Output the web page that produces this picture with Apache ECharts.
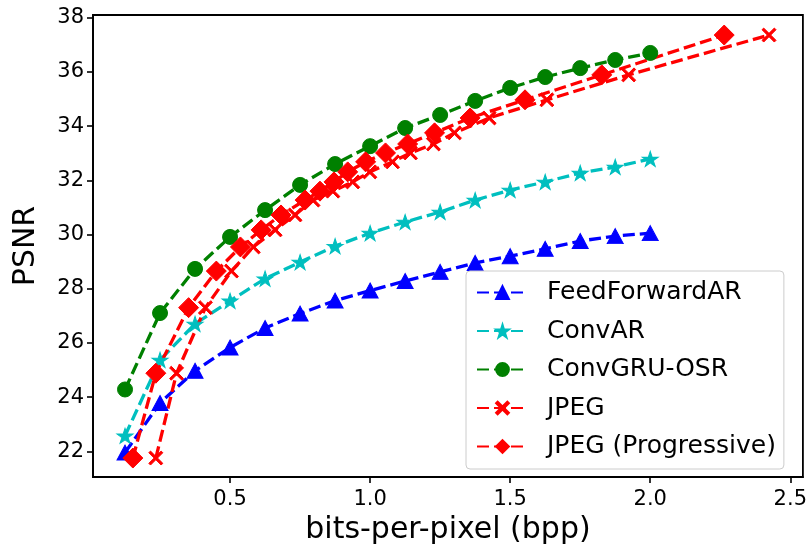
<!DOCTYPE html>
<html>
<head>
<meta charset="utf-8">
<script src="https://cdn.jsdelivr.net/npm/echarts@6/dist/echarts.min.js"></script>
<style>
  html, body { margin: 0; padding: 0; background: #ffffff; }
  #chart { width: 810px; height: 552px; }
</style>
</head>
<body>
<div id="chart"></div>
<script>
// Rate points (bpp) shared by the learned codecs
const modelBpp = [0.125, 0.25, 0.375, 0.5, 0.625, 0.75, 0.875, 1.0,
                  1.125, 1.25, 1.375, 1.5, 1.625, 1.75, 1.875, 2.0];

// PSNR (dB) of each learned codec at those rates
const feedForwardAR = [21.95, 23.78, 24.97, 25.83, 26.55, 27.08, 27.56, 27.93,
                       28.28, 28.62, 28.95, 29.20, 29.47, 29.76, 29.94, 30.05];
const convAR = [22.57, 25.37, 26.70, 27.55, 28.37, 28.98, 29.57, 30.05,
                30.46, 30.83, 31.27, 31.64, 31.94, 32.27, 32.49, 32.79];
const convGRUOSR = [24.28, 27.10, 28.73, 29.91, 30.90, 31.83, 32.60, 33.26,
                    33.93, 34.41, 34.93, 35.41, 35.81, 36.14, 36.44, 36.70];

// JPEG quality sweep: PSNR per quality setting (same for baseline and progressive)
const jpegPsnr = [21.75, 24.88, 27.30, 28.65, 29.54, 30.17, 30.72, 31.27, 31.60, 31.94,
                  32.31, 32.68, 33.01, 33.34, 33.75, 34.30, 34.97, 35.89, 37.36];
const jpegBpp = [0.235, 0.309, 0.412, 0.505, 0.583, 0.661, 0.732, 0.796, 0.867, 0.938,
                 0.999, 1.080, 1.144, 1.226, 1.301, 1.425, 1.631, 1.923, 2.424];
const jpegProgressiveBpp = [0.153, 0.235, 0.352, 0.451, 0.537, 0.611, 0.682, 0.768, 0.821, 0.871,
                            0.920, 0.984, 1.055, 1.134, 1.230, 1.357, 1.553, 1.827, 2.264];

// Tick labels
const xTicks = [0.5, 1.0, 1.5, 2.0, 2.5];
const yTicks = [22, 24, 26, 28, 30, 32, 34, 36, 38];

const FONT = 'DejaVu Sans';
const starPath = 'path://M50,0 L61.23,34.55 L97.55,34.55 L68.16,55.9 L79.39,90.45 L50,69.1 L20.61,90.45 L31.84,55.9 L2.45,34.55 L38.77,34.55 Z';
const crossPath = 'path://M0,12 L12,0 L50,38 L88,0 L100,12 L62,50 L100,88 L88,100 L50,62 L12,100 L0,88 L38,50 Z';

function pairs(xs, ys) {
  return xs.map((x, i) => [x, ys[i]]);
}

function lineSeries(name, xs, ys, color, symbol, size) {
  return {
    name: name,
    type: 'line',
    data: pairs(xs, ys),
    symbol: symbol,
    symbolSize: size,
    showAllSymbol: true,
    animation: false,
    lineStyle: { color: color, width: 3.3, type: [12, 5] },
    itemStyle: { color: color, borderColor: color, borderWidth: 1 },
    emphasis: { disabled: true }
  };
}

const chart = echarts.init(document.getElementById('chart'), null, { renderer: 'canvas' });

chart.setOption({
  backgroundColor: '#ffffff',
  animation: false,
  grid: {
    left: 93, top: 15, right: 4, bottom: 75,
    show: true, borderColor: '#000000', borderWidth: 1.8, backgroundColor: 'transparent'
  },
  xAxis: {
    type: 'value',
    min: 0.0107, max: 2.545,
    name: 'bits-per-pixel (bpp)',
    nameLocation: 'middle',
    nameGap: 34,
    nameTextStyle: { fontFamily: FONT, fontSize: 30, color: '#000' },
    axisLine: { show: true, lineStyle: { color: '#000', width: 1.8 } },
    axisTick: { show: true, length: 6, lineStyle: { color: '#000', width: 1.6 }, customValues: xTicks },
    axisLabel: {
      customValues: xTicks, margin: 12,
      fontFamily: FONT, fontSize: 21, color: '#000',
      formatter: v => v.toFixed(1)
    },
    splitLine: { show: false }
  },
  yAxis: {
    type: 'value',
    min: 21.05, max: 38.1,
    name: 'PSNR',
    nameLocation: 'middle',
    nameGap: 52,
    nameRotate: 90,
    nameTextStyle: { fontFamily: FONT, fontSize: 30, color: '#000' },
    axisLine: { show: true, lineStyle: { color: '#000', width: 1.8 } },
    axisTick: { show: true, length: 6, lineStyle: { color: '#000', width: 1.6 }, customValues: yTicks },
    axisLabel: {
      customValues: yTicks, margin: 9,
      fontFamily: FONT, fontSize: 21, color: '#000',
      formatter: v => String(v)
    },
    splitLine: { show: false }
  },
  legend: {
    orient: 'vertical',
    left: 466, top: 271,
    padding: [9, 8, 10, 10],
    itemWidth: 51, itemHeight: 16, itemGap: 13.5,
    backgroundColor: 'rgba(255,255,255,0.8)',
    borderColor: '#cccccc', borderWidth: 1, borderRadius: 4,
    textStyle: { fontFamily: FONT, fontSize: 25, color: '#000', lineHeight: 25, padding: [0, 0, 0, 14] },
    data: ['FeedForwardAR', 'ConvAR', 'ConvGRU-OSR', 'JPEG', 'JPEG (Progressive)']
  },
  series: [
    lineSeries('FeedForwardAR', modelBpp, feedForwardAR, '#0000ff', 'triangle', [16, 15]),
    lineSeries('ConvAR', modelBpp, convAR, '#00bfbf', starPath, [16, 15]),
    lineSeries('ConvGRU-OSR', modelBpp, convGRUOSR, '#008000', 'circle', 15),
    lineSeries('JPEG', jpegBpp, jpegPsnr, '#ff0000', crossPath, 14),
    lineSeries('JPEG (Progressive)', jpegProgressiveBpp, jpegPsnr, '#ff0000', 'diamond', [20, 20])
  ]
});
</script>
</body>
</html>
